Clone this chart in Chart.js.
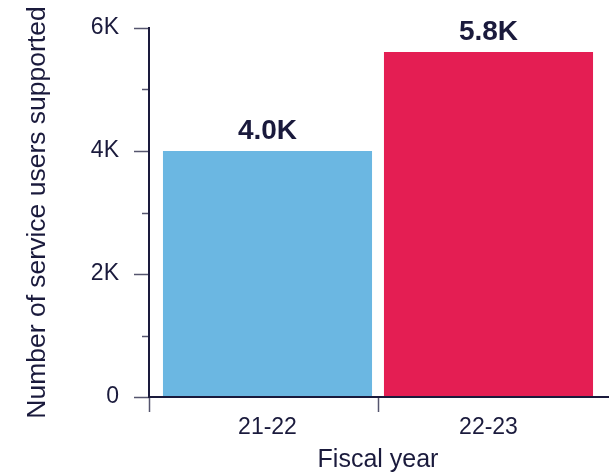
<!DOCTYPE html>
<html>
<head>
<meta charset="utf-8">
<script src="https://cdn.jsdelivr.net/npm/chart.js@4"></script>
<style>
  html, body { margin: 0; padding: 0; background: #fff; }
  #wrap { width: 615px; height: 473px; }
</style>
</head>
<body>
<div id="wrap"><canvas id="chart"></canvas></div>
<script>
// data
var fiscal_years = ['21-22', '22-23']
var users_supported = [4000, 5610]
var value_labels = ['4.0K', '5.8K']
var bar_colors = ['#6bb7e2', '#e41e53']
var y_ticks_major = [0, 2000, 4000, 6000]
var y_ticks_minor = [1000, 3000, 5000]

var ink = '#1a1a3c'
var tick_ink = '#55556e'

// axes lines, tick marks and bar labels
var axesPlugin = {
    id: 'axesPlugin',
    afterDatasetsDraw: function(chart){
        var ctx = chart.ctx
        var x = chart.scales.x
        var y = chart.scales.y
        var area = chart.chartArea
        var x0 = area.left - 8
        var x1 = area.right + 10
        var y0 = y.getPixelForValue(0)
        ctx.save()

        // tick marks
        ctx.strokeStyle = tick_ink
        ctx.lineWidth = 1.5
        y_ticks_major.forEach(function(v){
            var py = Math.round(y.getPixelForValue(v)) + 0.5
            ctx.beginPath(); ctx.moveTo(x0 - 15, py); ctx.lineTo(x0, py); ctx.stroke()
        })
        y_ticks_minor.forEach(function(v){
            var py = Math.round(y.getPixelForValue(v)) + 0.5
            ctx.beginPath(); ctx.moveTo(x0 - 7, py); ctx.lineTo(x0, py); ctx.stroke()
        })
        var mid = (x.getPixelForValue(0) + x.getPixelForValue(1)) / 2
        ;[x0, mid].forEach(function(px){
            px = Math.round(px) + 0.5
            ctx.beginPath(); ctx.moveTo(px, y0); ctx.lineTo(px, y0 + 15); ctx.stroke()
        })

        // axis lines
        ctx.strokeStyle = ink
        ctx.lineWidth = 2
        ctx.beginPath()
        ctx.moveTo(x0, y.getPixelForValue(6000) - 1)
        ctx.lineTo(x0, y0)
        ctx.lineTo(x1, y0)
        ctx.stroke()

        // value labels
        ctx.fillStyle = ink
        ctx.font = 'bold 28px "Liberation Sans", Arial, sans-serif'
        ctx.textAlign = 'center'
        ctx.textBaseline = 'alphabetic'
        var meta = chart.getDatasetMeta(0)
        meta.data.forEach(function(bar, i){
            ctx.fillText(value_labels[i], bar.x, bar.y - 12)
        })
        ctx.restore()
    }
}

var ctx = document.getElementById('chart')
var chart = new Chart(ctx, {
    type: 'bar',
    data: {
        labels: fiscal_years,
        datasets: [{
            data: users_supported,
            backgroundColor: bar_colors,
            borderWidth: 0,
            categoryPercentage: 1.0,
            barPercentage: 0.946
        }]
    },
    options: {
        responsive: true,
        maintainAspectRatio: false,
        animation: false,
        devicePixelRatio: 1,
        layout: { padding: { top: 28, right: 16, left: 0, bottom: 0 } },
        plugins: {
            legend: { display: false },
            tooltip: { enabled: false }
        },
        scales: {
            x: {
                grid: { display: false, drawTicks: false },
                border: { display: false },
                ticks: {
                    color: ink,
                    padding: 17,
                    font: { family: '"Liberation Sans", Arial, sans-serif', size: 23 }
                },
                title: {
                    display: true,
                    text: 'Fiscal year',
                    color: ink,
                    padding: { top: 0, bottom: 0 },
                    font: { family: '"Liberation Sans", Arial, sans-serif', size: 25, lineHeight: 1 }
                },
                afterFit: function(scale){
                    scale.height = 76
                    scale.paddingLeft = 0
                    scale.paddingRight = 0
                }
            },
            y: {
                min: 0,
                max: 6000,
                grid: { display: false, drawTicks: false },
                border: { display: false },
                ticks: {
                    stepSize: 2000,
                    color: ink,
                    padding: 38,
                    font: { family: '"Liberation Sans", Arial, sans-serif', size: 23 },
                    callback: function(v){ return v === 0 ? '0' : (v / 1000) + 'K' }
                },
                title: {
                    display: true,
                    text: 'Number of service users supported',
                    color: ink,
                    padding: { top: 24, bottom: 0 },
                    font: { family: '"Liberation Sans", Arial, sans-serif', size: 26.5, lineHeight: 1 }
                },
                afterFit: function(scale){
                    scale.width = 157
                    scale.paddingTop = 0
                    scale.paddingBottom = 0
                }
            }
        }
    },
    plugins: [axesPlugin]
})
</script>
</body>
</html>
